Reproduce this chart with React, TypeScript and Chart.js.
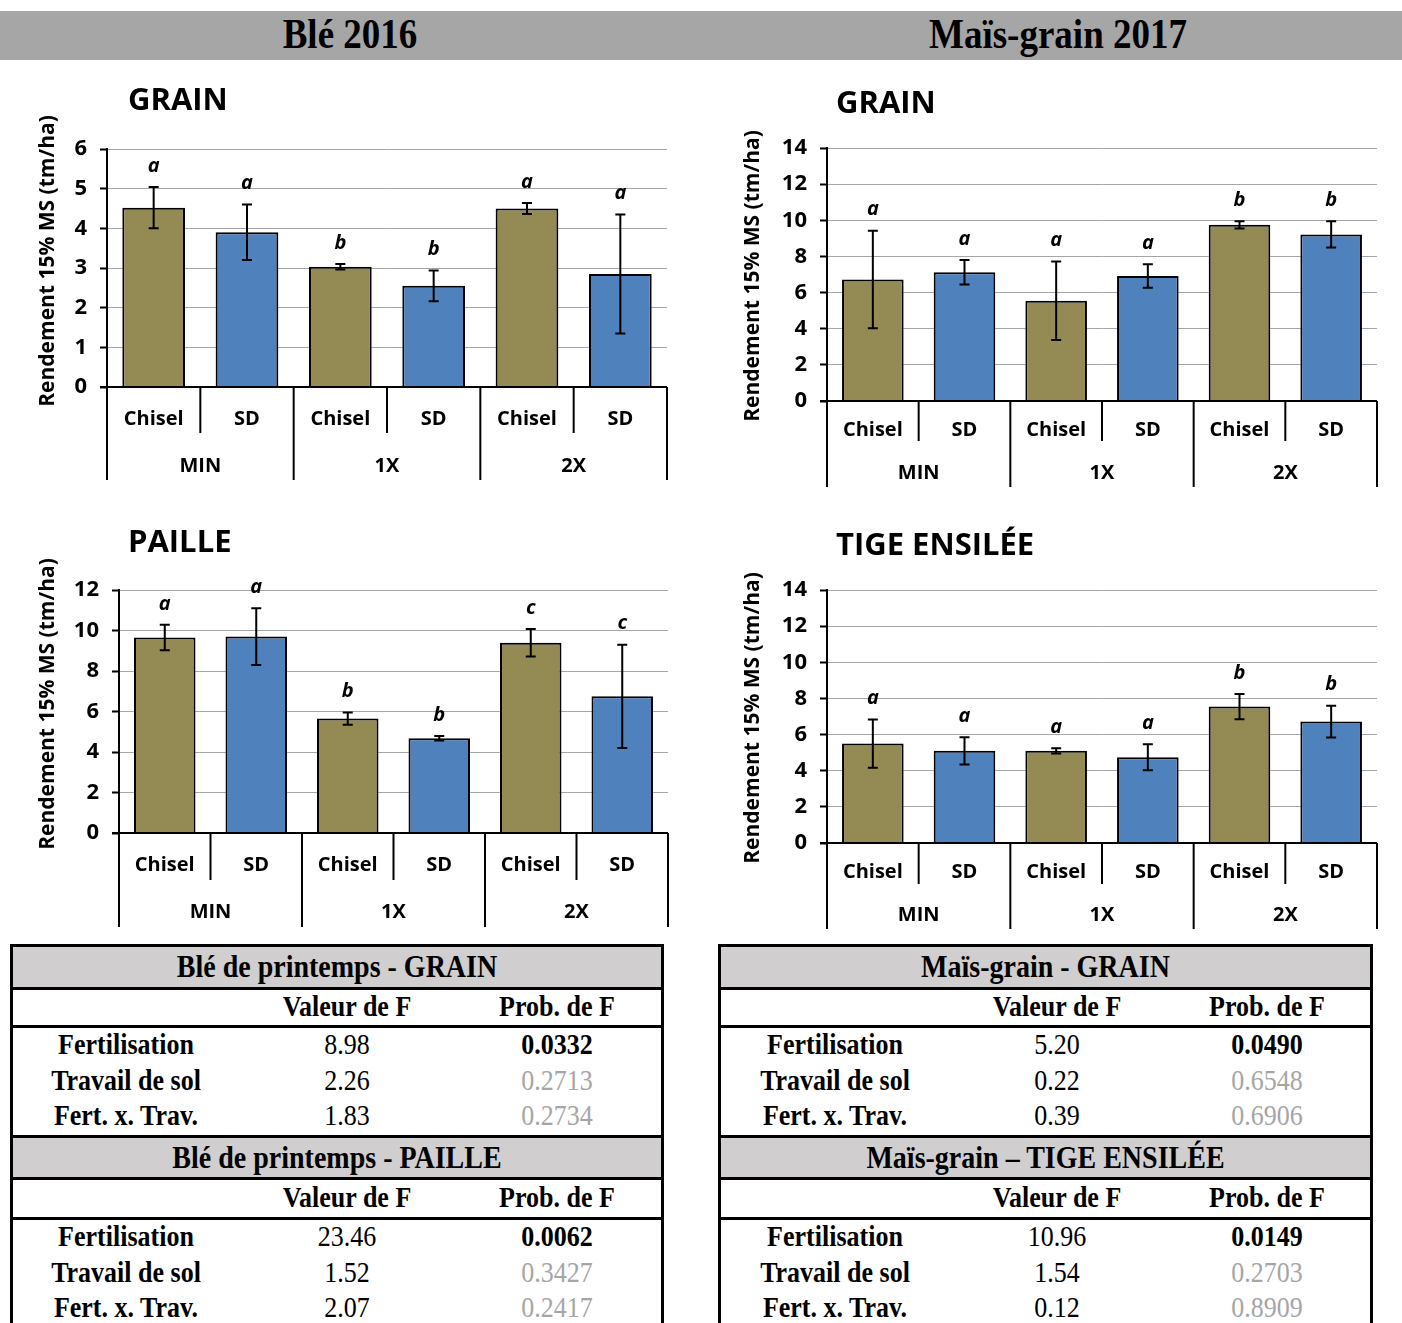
import React, { useEffect, useRef } from "react";
import { Chart, registerables } from "chart.js";

Chart.register(...registerables);

// ---- data ----
const tillage = ["Chisel", "SD", "Chisel", "SD", "Chisel", "SD"];
const fertLevels = ["MIN", "1X", "2X"];
const yTitle = "Rendement 15% MS (tm/ha)";

const bleGrainMeans = [4.52, 3.9, 3.03, 2.55, 4.5, 2.85];
const bleGrainErrs = [0.52, 0.7, 0.07, 0.39, 0.14, 1.5];
const bleGrainLetters = ["a", "a", "b", "b", "a", "a"];

const blePailleMeans = [9.65, 9.7, 5.65, 4.68, 9.4, 6.75];
const blePailleErrs = [0.63, 1.4, 0.3, 0.11, 0.68, 2.55];
const blePailleLetters = ["a", "a", "b", "b", "c", "c"];

const maisGrainMeans = [6.72, 7.12, 5.55, 6.92, 9.75, 9.22];
const maisGrainErrs = [2.7, 0.68, 2.17, 0.65, 0.2, 0.73];
const maisGrainLetters = ["a", "a", "a", "a", "b", "b"];

const maisTigeMeans = [5.5, 5.1, 5.1, 4.75, 7.55, 6.72];
const maisTigeErrs = [1.33, 0.75, 0.15, 0.72, 0.7, 0.88];
const maisTigeLetters = ["a", "a", "a", "a", "b", "b"];

const anovaSources = ["Fertilisation", "Travail de sol", "Fert. x. Trav."];
const bleGrainF = ["8.98", "2.26", "1.83"];
const bleGrainP = ["0.0332", "0.2713", "0.2734"];
const blePailleF = ["23.46", "1.52", "2.07"];
const blePailleP = ["0.0062", "0.3427", "0.2417"];
const maisGrainF = ["5.20", "0.22", "0.39"];
const maisGrainP = ["0.0490", "0.6548", "0.6906"];
const maisTigeF = ["10.96", "1.54", "0.12"];
const maisTigeP = ["0.0149", "0.2703", "0.8909"];

// ---- styling ----
const OLIVE = "#948a54";
const BLUE = "#4f81bd";
const SANS = "'Open Sans', 'DejaVu Sans', sans-serif";
const SERIF = "'Liberation Serif', 'Times New Roman', serif";
const Y_AXIS_W = 60;
const LETTER_GAP = 21;

type Panel = {
  title: string;
  titleX: number;
  titleY: number;
  canvas: { x: number; y: number; w: number; h: number };
  plot: { l: number; t: number; r: number; b: number };
  yMax: number;
  yStep: number;
  means: number[];
  errs: number[];
  letters: string[];
  yTitleX: number;
  yTitleY: number;
  row1Label: number;
  row1Sep: number;
  row2Label: number;
  row2Sep: number;
};

const panels: Panel[] = [
  {
    title: "GRAIN", titleX: 128, titleY: 99,
    canvas: { x: 0, y: 70, w: 700, h: 420 },
    plot: { l: 107, t: 149, r: 667, b: 387 },
    yMax: 6, yStep: 1,
    means: bleGrainMeans, errs: bleGrainErrs, letters: bleGrainLetters,
    yTitleX: 48, yTitleY: 261,
    row1Label: 32, row1Sep: 46, row2Label: 79, row2Sep: 93,
  },
  {
    title: "PAILLE", titleX: 128, titleY: 541,
    canvas: { x: 0, y: 510, w: 700, h: 430 },
    plot: { l: 119, t: 590, r: 668, b: 833 },
    yMax: 12, yStep: 2,
    means: blePailleMeans, errs: blePailleErrs, letters: blePailleLetters,
    yTitleX: 48, yTitleY: 704,
    row1Label: 32, row1Sep: 47, row2Label: 79, row2Sep: 94,
  },
  {
    title: "GRAIN", titleX: 836, titleY: 102,
    canvas: { x: 710, y: 70, w: 692, h: 430 },
    plot: { l: 827, t: 148, r: 1377, b: 401 },
    yMax: 14, yStep: 2,
    means: maisGrainMeans, errs: maisGrainErrs, letters: maisGrainLetters,
    yTitleX: 753, yTitleY: 276,
    row1Label: 29, row1Sep: 40, row2Label: 72, row2Sep: 86,
  },
  {
    title: "TIGE ENSILÉE", titleX: 836, titleY: 544,
    canvas: { x: 710, y: 510, w: 692, h: 430 },
    plot: { l: 827, t: 590, r: 1377, b: 843 },
    yMax: 14, yStep: 2,
    means: maisTigeMeans, errs: maisTigeErrs, letters: maisTigeLetters,
    yTitleX: 753, yTitleY: 718,
    row1Label: 29, row1Sep: 41, row2Label: 72, row2Sep: 86,
  },
];

function BarPanel({ p }: { p: Panel }) {
  const ref = useRef<HTMLCanvasElement>(null);

  useEffect(() => {
    if (!ref.current) return;
    const c = p.canvas;
    const padding = {
      left: p.plot.l - c.x - Y_AXIS_W,
      top: p.plot.t - c.y,
      right: c.x + c.w - p.plot.r,
      bottom: c.y + c.h - p.plot.b,
    };

    // error bars, significance letters, two-level category axis and y title
    const decor = {
      id: "decor",
      afterDatasetsDraw(chart: any) {
        const ctx = chart.ctx as CanvasRenderingContext2D;
        const xs = chart.scales.x;
        const ys = chart.scales.y;
        const area = chart.chartArea;
        const meta = chart.getDatasetMeta(0);
        ctx.save();
        ctx.strokeStyle = "#000";
        ctx.fillStyle = "#000";
        ctx.lineWidth = 2;
        ctx.textAlign = "center";
        ctx.textBaseline = "middle";

        p.means.forEach((m, i) => {
          const x = meta.data[i].x;
          const yHi = ys.getPixelForValue(m + p.errs[i]);
          const yLo = ys.getPixelForValue(m - p.errs[i]);
          ctx.beginPath();
          ctx.moveTo(x, yHi);
          ctx.lineTo(x, yLo);
          ctx.moveTo(x - 5, yHi);
          ctx.lineTo(x + 5, yHi);
          ctx.moveTo(x - 5, yLo);
          ctx.lineTo(x + 5, yLo);
          ctx.stroke();
          ctx.font = `italic bold 20px ${SANS}`;
          ctx.fillText(p.letters[i], x, yHi - LETTER_GAP);
        });

        const b = area.bottom;
        const n = p.means.length;
        const cw = (area.right - area.left) / n;
        ctx.beginPath();
        ctx.moveTo(area.left - 7, b);
        ctx.lineTo(area.right, b);
        for (let i = 0; i <= n; i++) {
          const x = area.left + i * cw;
          ctx.moveTo(x, b);
          ctx.lineTo(x, b + (i % 2 === 0 ? p.row2Sep : p.row1Sep));
        }
        ctx.stroke();

        ctx.font = `bold 20px ${SANS}`;
        tillage.forEach((t, i) => ctx.fillText(t, xs.getPixelForValue(i), b + p.row1Label));
        fertLevels.forEach((f, g) => ctx.fillText(f, area.left + (2 * g + 1) * cw, b + p.row2Label));

        ctx.translate(p.yTitleX - c.x, p.yTitleY - c.y);
        ctx.rotate(-Math.PI / 2);
        ctx.font = `bold 21px ${SANS}`;
        ctx.fillText(yTitle, 0, 0);
        ctx.restore();
      },
    };

    const chart = new Chart(ref.current, {
      type: "bar",
      data: {
        labels: tillage,
        datasets: [
          {
            data: p.means,
            backgroundColor: tillage.map((t) => (t === "Chisel" ? OLIVE : BLUE)),
            borderColor: "#000",
            borderWidth: 2,
            categoryPercentage: 1,
            barPercentage: 0.672,
          },
        ],
      },
      options: {
        responsive: false,
        animation: false,
        layout: { padding },
        plugins: { legend: { display: false }, tooltip: { enabled: false } },
        scales: {
          x: { display: false },
          y: {
            min: 0,
            max: p.yMax,
            ticks: { stepSize: p.yStep, color: "#000", padding: 13, font: { family: SANS, size: 22, weight: "bold" } },
            grid: { color: "#a6a6a6", lineWidth: 1, tickLength: 7, tickColor: "#000", tickWidth: 2 },
            border: { color: "#000", width: 2 },
            afterFit: (s: any) => {
              s.width = Y_AXIS_W;
            },
          },
        },
      } as any,
      plugins: [decor],
    });
    return () => chart.destroy();
  }, [p]);

  return (
    <>
      <canvas
        ref={ref}
        width={p.canvas.w}
        height={p.canvas.h}
        style={{ position: "absolute", left: p.canvas.x, top: p.canvas.y, width: p.canvas.w, height: p.canvas.h }}
      />
      <div
        style={{
          position: "absolute",
          left: p.titleX,
          top: p.titleY - 22,
          height: 44,
          lineHeight: "44px",
          font: `bold 31px ${SANS}`,
          color: "#000",
          whiteSpace: "nowrap",
        }}
      >
        {p.title}
      </div>
    </>
  );
}

type Section = { heading: string; f: string[]; p: string[] };
type TableLayout = { x0: number; x1: number; labelCx: number; fCx: number; pCx: number; sections: Section[] };

const tables: TableLayout[] = [
  {
    x0: 10, x1: 664, labelCx: 126, fCx: 347, pCx: 557,
    sections: [
      { heading: "Blé de printemps - GRAIN", f: bleGrainF, p: bleGrainP },
      { heading: "Blé de printemps - PAILLE", f: blePailleF, p: blePailleP },
    ],
  },
  {
    x0: 718, x1: 1373, labelCx: 835, fCx: 1057, pCx: 1267,
    sections: [
      { heading: "Maïs-grain - GRAIN", f: maisGrainF, p: maisGrainP },
      { heading: "Maïs-grain – TIGE ENSILÉE", f: maisTigeF, p: maisTigeP },
    ],
  },
];

// vertical positions of each section block: top rule, header band, sub-header, rows
const sectionTops = [944, 1135];

function Txt({ cx, cy, children, bold, color, size }: any) {
  return (
    <div
      style={{
        position: "absolute",
        left: cx - 200,
        width: 400,
        top: cy - 18,
        height: 36,
        lineHeight: "36px",
        textAlign: "center",
        fontFamily: SERIF,
        fontWeight: bold ? "bold" : "normal",
        fontSize: size || 26,
        color: color || "#000",
        whiteSpace: "nowrap",
        transform: "scaleY(1.14)",
      }}
    >
      {children}
    </div>
  );
}

function AnovaTable({ t }: { t: TableLayout }) {
  const w = t.x1 - t.x0;
  const cx = (t.x0 + t.x1) / 2;
  const els: any[] = [];
  const rule = (y: number, k: string) => (
    <div key={k} style={{ position: "absolute", left: t.x0, top: y, width: w, height: 3, background: "#000" }} />
  );
  t.sections.forEach((s, si) => {
    const y0 = sectionTops[si];
    const bandBottom = si === 0 ? 987 : 1177;
    const subBottom = si === 0 ? 1025 : 1217;
    els.push(
      <div key={`band${si}`} style={{ position: "absolute", left: t.x0, top: y0 + 3, width: w, height: bandBottom - y0 - 3, background: "#d0cece" }} />
    );
    els.push(rule(y0, `r0${si}`));
    els.push(rule(bandBottom, `r1${si}`));
    els.push(rule(subBottom, `r2${si}`));
    els.push(
      <Txt key={`h${si}`} cx={cx} cy={(y0 + bandBottom + 3) / 2} bold size={28}>
        {s.heading}
      </Txt>
    );
    const subY = (bandBottom + subBottom + 3) / 2 - 1;
    els.push(<Txt key={`sf${si}`} cx={t.fCx} cy={subY} bold>Valeur de F</Txt>);
    els.push(<Txt key={`sp${si}`} cx={t.pCx} cy={subY} bold>Prob. de F</Txt>);
    anovaSources.forEach((src, ri) => {
      const ry = subBottom + 20 + ri * 35.5;
      const sig = parseFloat(s.p[ri]) < 0.05;
      els.push(<Txt key={`l${si}${ri}`} cx={t.labelCx} cy={ry} bold>{src}</Txt>);
      els.push(<Txt key={`f${si}${ri}`} cx={t.fCx} cy={ry}>{s.f[ri]}</Txt>);
      els.push(
        <Txt key={`p${si}${ri}`} cx={t.pCx} cy={ry} bold={sig} color={sig ? "#000" : "#a6a6a6"}>
          {s.p[ri]}
        </Txt>
      );
    });
  });
  els.push(<div key="lb" style={{ position: "absolute", left: t.x0, top: 944, width: 3, height: 1323 - 944, background: "#000" }} />);
  els.push(<div key="rb" style={{ position: "absolute", left: t.x1 - 3, top: 944, width: 3, height: 1323 - 944, background: "#000" }} />);
  return <>{els}</>;
}

export default function App() {
  return (
    <div style={{ position: "absolute", left: 0, top: 0, width: 1402, height: 1323, background: "#fff", overflow: "hidden" }}>
      <div style={{ position: "absolute", left: 0, top: 11, width: 1402, height: 49, background: "#a6a6a6" }} />
      <Txt cx={350} cy={34} bold size={37}>Blé 2016</Txt>
      <Txt cx={1058} cy={34} bold size={37}>Maïs-grain 2017</Txt>
      {panels.map((p, i) => (
        <BarPanel key={i} p={p} />
      ))}
      {tables.map((t, i) => (
        <AnovaTable key={i} t={t} />
      ))}
    </div>
  );
}
